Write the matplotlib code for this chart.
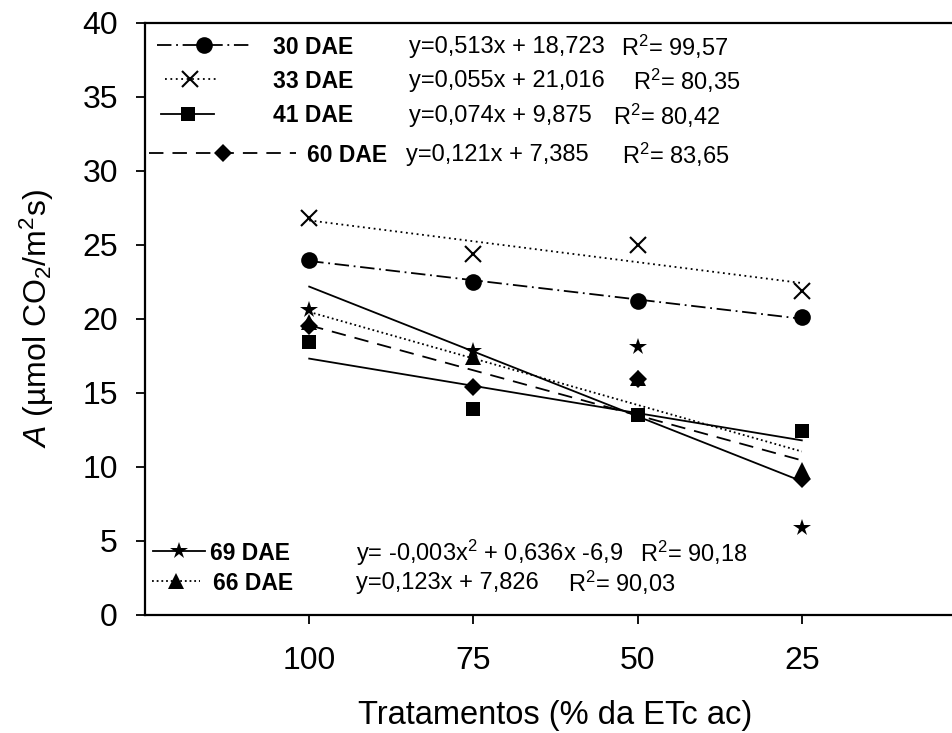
import numpy as np
import matplotlib
matplotlib.use("Agg")
import matplotlib.pyplot as plt
from matplotlib.lines import Line2D

plt.rcParams["font.family"] = ["Liberation Sans", "DejaVu Sans"]
plt.rcParams["mathtext.fontset"] = "custom"
plt.rcParams["mathtext.rm"] = "Liberation Sans"
plt.rcParams["mathtext.it"] = "Liberation Sans:italic"
plt.rcParams["mathtext.bf"] = "Liberation Sans:bold"

# Treatments (% of ETc) and net photosynthesis A per evaluation date
treatments = [100, 75, 50, 25]
a_30 = [24.0, 22.5, 21.2, 20.1]
a_33 = [26.8, 24.4, 25.0, 21.9]
a_41 = [18.4, 13.9, 13.5, 12.4]
a_60 = [19.5, 15.4, 15.9, 9.2]
a_69 = [20.6, 17.8, 18.1, 5.9]
a_66 = [19.8, 17.4, 16.0, 9.8]

names = ["30 DAE", "33 DAE", "41 DAE", "60 DAE", "69 DAE", "66 DAE"]
equations = ["y=0,513x + 18,723", "y=0,055x + 21,016", "y=0,074x + 9,875",
             "y=0,121x + 7,385", "y= -0,003x$^2$ + 0,636x -6,9", "y=0,123x + 7,826"]
r2_values = ["99,57", "80,35", "80,42", "83,65", "90,18", "90,03"]

W, H = 953, 733
fig = plt.figure(figsize=(W / 100, H / 100), dpi=100)
ax = fig.add_axes([145 / W, 1 - 615 / H, (966 - 145) / W, (615 - 22.5) / H])

lw = 1.3
styles = [
    dict(marker="o", ms=12, ls=(0, (8, 2.6, 1, 2.6)), mew=0),
    dict(marker="x", ms=11, ls=(0, (1, 2)), mew=1.5),
    dict(marker="s", ms=10, ls="-", mew=0),
    dict(marker="D", ms=9, ls=(0, (8, 5)), mew=0),
    dict(marker="*", ms=13, ls="-", mew=0),
    dict(marker="^", ms=11, ls=(0, (1, 1.6)), mew=0),
]
series = [a_30, a_33, a_41, a_60, a_69, a_66]

x = np.array(treatments, dtype=float)
x_ends = np.array([x.max(), x.min()])
handles = []
for vals, st in zip(series, styles):
    y = np.array(vals)
    coef = np.polyfit(x, y, 1)
    ax.plot(x_ends, np.polyval(coef, x_ends), color="black", lw=lw, ls=st["ls"])
    ax.plot(x, y, ls="none", marker=st["marker"], ms=st["ms"], color="black",
            mew=st["mew"], clip_on=False, zorder=3)
    handles.append(Line2D([], [], color="black", lw=lw, ls=st["ls"],
                          marker=st["marker"], ms=st["ms"], mew=st["mew"]))

ax.set_xlim(125, 0)
ax.set_ylim(0, 40)
ax.set_xticks(treatments)
ax.set_xticklabels([str(t) for t in treatments])
ax.set_yticks(np.arange(0, 41, 5))

for side in ["left", "top", "bottom"]:
    ax.spines[side].set_linewidth(1.6)
ax.spines["right"].set_visible(False)
ax.tick_params(axis="both", direction="out", length=6.5, width=1.3, labelsize=23)
ax.tick_params(axis="y", pad=13)
ax.tick_params(axis="x", pad=16)

ax.set_ylabel(r"$\mathit{A}$ (µmol CO$_2$/m$^2$s)", fontsize=23)
ax.yaxis.set_label_coords(-0.109, 0.5)
ax.set_xlabel("Tratamentos (% da ETc ac)", fontsize=23.5)
ax.xaxis.set_label_coords(0.5, -0.169)
ax.xaxis.label.set_va("center")

# legend rows: (handle start px, handle length px, text start px, row y px, eq x px, R2 x px)
fs_name = 16.5
fs_eq = 17
fs_px = fs_name * 100 / 72
rows = [
    (157, 95, 273, 47, 409, 621),
    (165, 51, 273, 81, 409, 633),
    (161, 53, 273, 116, 409, 613),
    (149, 147, 307, 155, 406, 622),
    (153, 52, 210, 553, 356, 640),
    (152, 48, 213, 583, 356, 568),
]
for h, name, eq, r2, (hx, hl, tx, ry, ex, rx) in zip(handles, names, equations, r2_values, rows):
    fig.legend(handles=[h], labels=[name], loc="center left",
               bbox_to_anchor=(hx / W, 1 - ry / H), frameon=False,
               borderpad=0, borderaxespad=0, numpoints=1,
               handlelength=hl / fs_px, handletextpad=(tx - hx - hl) / fs_px,
               prop=dict(weight="bold", size=fs_name))
    fig.text(ex / W, 1 - ry / H, eq, fontsize=fs_eq, va="center", ha="left")
    fig.text(rx / W, 1 - ry / H, "R$^2$= " + r2, fontsize=fs_eq, va="center", ha="left")

fig.savefig("out.png", dpi=100)
